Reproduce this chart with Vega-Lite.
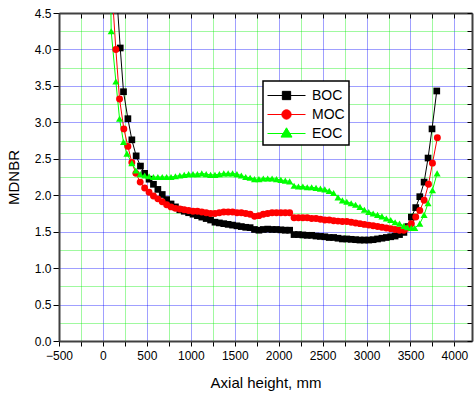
{
  "$schema": "https://vega.github.io/schema/vega-lite/v6.json",
  "width": 413,
  "height": 328,
  "autosize": "none",
  "padding": {"left": 59, "top": 13, "right": 2, "bottom": 59},
  "background": "white",
  "config": {
    "view": {"stroke": null},
    "font": "Liberation Sans",
    "axis": {
      "labelFont": "Liberation Sans",
      "titleFont": "Liberation Sans",
      "labelColor": "#000000",
      "titleColor": "#000000",
      "labelFontSize": 12,
      "titleFontSize": 15,
      "titleFontWeight": "normal",
      "domainColor": "#404040",
      "domainWidth": 2,
      "tickColor": "#000000",
      "tickWidth": 1,
      "labelOverlap": false,
      "labelFlush": false
    },
    "legend": {
      "orient": "none",
      "legendX": 204,
      "legendY": 68,
      "fillColor": "#ffffff",
      "strokeColor": "#000000",
      "padding": 4,
      "labelFont": "Liberation Sans",
      "labelFontSize": 14,
      "labelColor": "#000000",
      "symbolSize": 400,
      "labelOffset": 24,
      "rowPadding": 1
    }
  },
  "data": {
    "values": [
      {"s": "BOC", "x": 150, "y": 4.86}, {"s": "BOC", "x": 197, "y": 4.02}, {"s": "BOC", "x": 234, "y": 3.42}, {"s": "BOC", "x": 284, "y": 3.05},
      {"s": "BOC", "x": 329, "y": 2.76}, {"s": "BOC", "x": 378, "y": 2.54}, {"s": "BOC", "x": 427, "y": 2.40}, {"s": "BOC", "x": 475, "y": 2.30},
      {"s": "BOC", "x": 525, "y": 2.22}, {"s": "BOC", "x": 575, "y": 2.15}, {"s": "BOC", "x": 625, "y": 2.08}, {"s": "BOC", "x": 675, "y": 2.01},
      {"s": "BOC", "x": 725, "y": 1.94}, {"s": "BOC", "x": 775, "y": 1.88}, {"s": "BOC", "x": 825, "y": 1.84}, {"s": "BOC", "x": 875, "y": 1.80},
      {"s": "BOC", "x": 925, "y": 1.78}, {"s": "BOC", "x": 975, "y": 1.76}, {"s": "BOC", "x": 1025, "y": 1.74}, {"s": "BOC", "x": 1075, "y": 1.72},
      {"s": "BOC", "x": 1125, "y": 1.70}, {"s": "BOC", "x": 1175, "y": 1.68}, {"s": "BOC", "x": 1225, "y": 1.66}, {"s": "BOC", "x": 1275, "y": 1.63},
      {"s": "BOC", "x": 1325, "y": 1.62}, {"s": "BOC", "x": 1375, "y": 1.61}, {"s": "BOC", "x": 1425, "y": 1.60}, {"s": "BOC", "x": 1475, "y": 1.59},
      {"s": "BOC", "x": 1525, "y": 1.58}, {"s": "BOC", "x": 1575, "y": 1.57}, {"s": "BOC", "x": 1625, "y": 1.56}, {"s": "BOC", "x": 1675, "y": 1.555},
      {"s": "BOC", "x": 1725, "y": 1.53}, {"s": "BOC", "x": 1775, "y": 1.52}, {"s": "BOC", "x": 1825, "y": 1.53}, {"s": "BOC", "x": 1875, "y": 1.535},
      {"s": "BOC", "x": 1925, "y": 1.53}, {"s": "BOC", "x": 1975, "y": 1.53}, {"s": "BOC", "x": 2025, "y": 1.525}, {"s": "BOC", "x": 2075, "y": 1.52},
      {"s": "BOC", "x": 2125, "y": 1.52}, {"s": "BOC", "x": 2175, "y": 1.46}, {"s": "BOC", "x": 2225, "y": 1.46}, {"s": "BOC", "x": 2275, "y": 1.455},
      {"s": "BOC", "x": 2325, "y": 1.45}, {"s": "BOC", "x": 2375, "y": 1.45}, {"s": "BOC", "x": 2425, "y": 1.44}, {"s": "BOC", "x": 2475, "y": 1.435},
      {"s": "BOC", "x": 2525, "y": 1.43}, {"s": "BOC", "x": 2575, "y": 1.42}, {"s": "BOC", "x": 2625, "y": 1.42}, {"s": "BOC", "x": 2675, "y": 1.41},
      {"s": "BOC", "x": 2725, "y": 1.40}, {"s": "BOC", "x": 2775, "y": 1.40}, {"s": "BOC", "x": 2825, "y": 1.395}, {"s": "BOC", "x": 2875, "y": 1.39},
      {"s": "BOC", "x": 2925, "y": 1.385}, {"s": "BOC", "x": 2975, "y": 1.385}, {"s": "BOC", "x": 3025, "y": 1.385}, {"s": "BOC", "x": 3075, "y": 1.39},
      {"s": "BOC", "x": 3125, "y": 1.40}, {"s": "BOC", "x": 3175, "y": 1.41}, {"s": "BOC", "x": 3225, "y": 1.42}, {"s": "BOC", "x": 3275, "y": 1.43},
      {"s": "BOC", "x": 3325, "y": 1.44}, {"s": "BOC", "x": 3375, "y": 1.46}, {"s": "BOC", "x": 3425, "y": 1.49}, {"s": "BOC", "x": 3470, "y": 1.57},
      {"s": "BOC", "x": 3510, "y": 1.70}, {"s": "BOC", "x": 3560, "y": 1.83}, {"s": "BOC", "x": 3606, "y": 1.98}, {"s": "BOC", "x": 3655, "y": 2.18},
      {"s": "BOC", "x": 3700, "y": 2.51}, {"s": "BOC", "x": 3745, "y": 2.91}, {"s": "BOC", "x": 3799, "y": 3.43},

      {"s": "MOC", "x": 100, "y": 4.87}, {"s": "MOC", "x": 147, "y": 4.00}, {"s": "MOC", "x": 189, "y": 3.32}, {"s": "MOC", "x": 238, "y": 2.91},
      {"s": "MOC", "x": 284, "y": 2.67}, {"s": "MOC", "x": 329, "y": 2.45}, {"s": "MOC", "x": 375, "y": 2.30}, {"s": "MOC", "x": 424, "y": 2.18},
      {"s": "MOC", "x": 475, "y": 2.10}, {"s": "MOC", "x": 525, "y": 2.04}, {"s": "MOC", "x": 575, "y": 1.99}, {"s": "MOC", "x": 625, "y": 1.95},
      {"s": "MOC", "x": 675, "y": 1.91}, {"s": "MOC", "x": 725, "y": 1.87}, {"s": "MOC", "x": 775, "y": 1.84}, {"s": "MOC", "x": 825, "y": 1.82},
      {"s": "MOC", "x": 875, "y": 1.81}, {"s": "MOC", "x": 925, "y": 1.80}, {"s": "MOC", "x": 975, "y": 1.79}, {"s": "MOC", "x": 1025, "y": 1.78},
      {"s": "MOC", "x": 1075, "y": 1.78}, {"s": "MOC", "x": 1125, "y": 1.77}, {"s": "MOC", "x": 1175, "y": 1.76}, {"s": "MOC", "x": 1225, "y": 1.75},
      {"s": "MOC", "x": 1275, "y": 1.75}, {"s": "MOC", "x": 1325, "y": 1.76}, {"s": "MOC", "x": 1375, "y": 1.77}, {"s": "MOC", "x": 1425, "y": 1.77},
      {"s": "MOC", "x": 1475, "y": 1.77}, {"s": "MOC", "x": 1525, "y": 1.76}, {"s": "MOC", "x": 1575, "y": 1.76}, {"s": "MOC", "x": 1625, "y": 1.75},
      {"s": "MOC", "x": 1675, "y": 1.74}, {"s": "MOC", "x": 1725, "y": 1.71}, {"s": "MOC", "x": 1775, "y": 1.72}, {"s": "MOC", "x": 1825, "y": 1.74},
      {"s": "MOC", "x": 1875, "y": 1.75}, {"s": "MOC", "x": 1925, "y": 1.76}, {"s": "MOC", "x": 1975, "y": 1.76}, {"s": "MOC", "x": 2025, "y": 1.76},
      {"s": "MOC", "x": 2075, "y": 1.76}, {"s": "MOC", "x": 2125, "y": 1.76}, {"s": "MOC", "x": 2175, "y": 1.69}, {"s": "MOC", "x": 2225, "y": 1.69},
      {"s": "MOC", "x": 2275, "y": 1.69}, {"s": "MOC", "x": 2325, "y": 1.69}, {"s": "MOC", "x": 2375, "y": 1.68}, {"s": "MOC", "x": 2425, "y": 1.68},
      {"s": "MOC", "x": 2475, "y": 1.67}, {"s": "MOC", "x": 2525, "y": 1.66}, {"s": "MOC", "x": 2575, "y": 1.66}, {"s": "MOC", "x": 2625, "y": 1.65},
      {"s": "MOC", "x": 2675, "y": 1.645}, {"s": "MOC", "x": 2725, "y": 1.64}, {"s": "MOC", "x": 2775, "y": 1.64}, {"s": "MOC", "x": 2825, "y": 1.63},
      {"s": "MOC", "x": 2875, "y": 1.62}, {"s": "MOC", "x": 2925, "y": 1.61}, {"s": "MOC", "x": 2975, "y": 1.60}, {"s": "MOC", "x": 3025, "y": 1.59},
      {"s": "MOC", "x": 3075, "y": 1.58}, {"s": "MOC", "x": 3125, "y": 1.57}, {"s": "MOC", "x": 3175, "y": 1.56}, {"s": "MOC", "x": 3225, "y": 1.55},
      {"s": "MOC", "x": 3275, "y": 1.54}, {"s": "MOC", "x": 3325, "y": 1.53}, {"s": "MOC", "x": 3375, "y": 1.52}, {"s": "MOC", "x": 3425, "y": 1.52},
      {"s": "MOC", "x": 3465, "y": 1.55}, {"s": "MOC", "x": 3510, "y": 1.61}, {"s": "MOC", "x": 3560, "y": 1.70}, {"s": "MOC", "x": 3606, "y": 1.79},
      {"s": "MOC", "x": 3655, "y": 1.93}, {"s": "MOC", "x": 3705, "y": 2.15}, {"s": "MOC", "x": 3750, "y": 2.44}, {"s": "MOC", "x": 3806, "y": 2.79},

      {"s": "EOC", "x": 48, "y": 8.0}, {"s": "EOC", "x": 94, "y": 4.25}, {"s": "EOC", "x": 147, "y": 3.56}, {"s": "EOC", "x": 189, "y": 3.05},
      {"s": "EOC", "x": 234, "y": 2.73}, {"s": "EOC", "x": 273, "y": 2.57}, {"s": "EOC", "x": 329, "y": 2.44}, {"s": "EOC", "x": 375, "y": 2.34},
      {"s": "EOC", "x": 424, "y": 2.29}, {"s": "EOC", "x": 475, "y": 2.27}, {"s": "EOC", "x": 525, "y": 2.26}, {"s": "EOC", "x": 575, "y": 2.25},
      {"s": "EOC", "x": 625, "y": 2.25}, {"s": "EOC", "x": 675, "y": 2.25}, {"s": "EOC", "x": 725, "y": 2.25}, {"s": "EOC", "x": 775, "y": 2.25},
      {"s": "EOC", "x": 825, "y": 2.26}, {"s": "EOC", "x": 875, "y": 2.27}, {"s": "EOC", "x": 925, "y": 2.28}, {"s": "EOC", "x": 975, "y": 2.29},
      {"s": "EOC", "x": 1025, "y": 2.29}, {"s": "EOC", "x": 1075, "y": 2.29}, {"s": "EOC", "x": 1125, "y": 2.30}, {"s": "EOC", "x": 1175, "y": 2.29},
      {"s": "EOC", "x": 1225, "y": 2.28}, {"s": "EOC", "x": 1275, "y": 2.28}, {"s": "EOC", "x": 1325, "y": 2.29}, {"s": "EOC", "x": 1375, "y": 2.30},
      {"s": "EOC", "x": 1425, "y": 2.30}, {"s": "EOC", "x": 1475, "y": 2.30}, {"s": "EOC", "x": 1525, "y": 2.29}, {"s": "EOC", "x": 1575, "y": 2.27},
      {"s": "EOC", "x": 1625, "y": 2.25}, {"s": "EOC", "x": 1675, "y": 2.24}, {"s": "EOC", "x": 1725, "y": 2.22}, {"s": "EOC", "x": 1775, "y": 2.22},
      {"s": "EOC", "x": 1825, "y": 2.23}, {"s": "EOC", "x": 1875, "y": 2.23}, {"s": "EOC", "x": 1925, "y": 2.23}, {"s": "EOC", "x": 1975, "y": 2.22},
      {"s": "EOC", "x": 2025, "y": 2.21}, {"s": "EOC", "x": 2075, "y": 2.20}, {"s": "EOC", "x": 2125, "y": 2.19}, {"s": "EOC", "x": 2175, "y": 2.13},
      {"s": "EOC", "x": 2225, "y": 2.12}, {"s": "EOC", "x": 2275, "y": 2.12}, {"s": "EOC", "x": 2325, "y": 2.11}, {"s": "EOC", "x": 2375, "y": 2.11},
      {"s": "EOC", "x": 2425, "y": 2.10}, {"s": "EOC", "x": 2475, "y": 2.09}, {"s": "EOC", "x": 2525, "y": 2.08}, {"s": "EOC", "x": 2575, "y": 2.06},
      {"s": "EOC", "x": 2625, "y": 2.03}, {"s": "EOC", "x": 2675, "y": 1.97}, {"s": "EOC", "x": 2725, "y": 1.93}, {"s": "EOC", "x": 2775, "y": 1.91},
      {"s": "EOC", "x": 2825, "y": 1.89}, {"s": "EOC", "x": 2875, "y": 1.87}, {"s": "EOC", "x": 2925, "y": 1.84}, {"s": "EOC", "x": 2975, "y": 1.80},
      {"s": "EOC", "x": 3025, "y": 1.77}, {"s": "EOC", "x": 3075, "y": 1.75}, {"s": "EOC", "x": 3125, "y": 1.73}, {"s": "EOC", "x": 3175, "y": 1.71},
      {"s": "EOC", "x": 3225, "y": 1.68}, {"s": "EOC", "x": 3275, "y": 1.66}, {"s": "EOC", "x": 3325, "y": 1.63}, {"s": "EOC", "x": 3375, "y": 1.61},
      {"s": "EOC", "x": 3425, "y": 1.58}, {"s": "EOC", "x": 3465, "y": 1.56}, {"s": "EOC", "x": 3510, "y": 1.55}, {"s": "EOC", "x": 3549, "y": 1.55},
      {"s": "EOC", "x": 3606, "y": 1.61}, {"s": "EOC", "x": 3655, "y": 1.73}, {"s": "EOC", "x": 3700, "y": 1.89}, {"s": "EOC", "x": 3750, "y": 2.07},
      {"s": "EOC", "x": 3803, "y": 2.30}
    ]
  },
  "resolve": {"axis": {"x": "independent", "y": "independent"}},
  "layer": [
    {
      "mark": {"type": "line", "strokeWidth": 1, "clip": true},
      "encoding": {
        "x": {
          "field": "x", "type": "quantitative",
          "scale": {"domain": [-500, 4200], "nice": false, "zero": false},
          "axis": {
            "orient": "bottom",
            "values": [-500, -250, 0, 250, 500, 750, 1000, 1250, 1500, 1750, 2000, 2250, 2500, 2750, 3000, 3250, 3500, 3750, 4000],
            "labelExpr": "datum.value % 500 === 0 ? datum.label : ''",
            "format": "d",
            "title": "Axial height, mm",
            "titlePadding": 14,
            "tickSize": 5,
            "labelPadding": 4,
            "grid": true,
            "gridColor": {"condition": {"test": "datum.value % 500 === 0", "value": "#0000ff"}, "value": "#00ee00"},
            "gridDash": [1, 1],
            "gridWidth": 1,
            "gridOpacity": 0.75
          }
        },
        "y": {
          "field": "y", "type": "quantitative",
          "scale": {"domain": [0, 4.5], "nice": false, "zero": false},
          "axis": {
            "orient": "left",
            "values": [0, 0.25, 0.5, 0.75, 1, 1.25, 1.5, 1.75, 2, 2.25, 2.5, 2.75, 3, 3.25, 3.5, 3.75, 4, 4.25, 4.5],
            "labelExpr": "datum.value % 0.5 === 0 ? format(datum.value, '.1f') : ''",
            "title": "MDNBR",
            "titlePadding": 13,
            "tickSize": {"condition": {"test": "datum.value % 0.5 === 0", "value": 6}, "value": 0},
            "labelPadding": 2,
            "grid": true,
            "gridColor": {"condition": {"test": "datum.value % 0.5 === 0", "value": "#0000ff"}, "value": "#00ee00"},
            "gridDash": [1, 1],
            "gridWidth": 1,
            "gridOpacity": 0.75
          }
        },
        "color": {
          "field": "s", "type": "nominal",
          "scale": {"domain": ["BOC", "MOC", "EOC"], "range": ["#000000", "#ff0000", "#00ff00"]},
          "legend": {
            "title": null,
            "encode": {
              "legend": {"update": {"strokeWidth": {"value": 1.5}}},
              "symbols": {
                "update": {
                  "shape": {"signal": "datum.value === 'BOC' ? 'M-1,0H2.8M0.485,-0.415H1.315V0.415H0.485Z' : datum.value === 'MOC' ? 'M-1,0H2.8M0.435,0A0.465,0.465,0,1,0,1.365,0A0.465,0.465,0,1,0,0.435,0Z' : 'M-1,0H2.8M0.9,-0.57L1.45,0.36H0.35Z'"},
                  "fill": {"signal": "datum.value === 'BOC' ? '#000000' : datum.value === 'MOC' ? '#ff0000' : '#00ff00'"},
                  "strokeWidth": {"value": 1},
                  "size": {"value": 400},
                  "opacity": {"value": 1}
                }
              }
            }
          }
        }
      }
    },
    {
      "transform": [{"filter": "datum.s === 'BOC'"}],
      "mark": {"type": "point", "shape": "square", "filled": true, "color": "#000000", "opacity": 1, "size": 45, "clip": true},
      "encoding": {
        "x": {
          "field": "x", "type": "quantitative",
          "scale": {"domain": [-500, 4200], "nice": false, "zero": false},
          "axis": {
            "orient": "top",
            "values": [-500, -250, 0, 250, 500, 750, 1000, 1250, 1500, 1750, 2000, 2250, 2500, 2750, 3000, 3250, 3500, 3750, 4000],
            "labels": false,
            "title": null,
            "tickSize": -5,
            "grid": false
          }
        },
        "y": {
          "field": "y", "type": "quantitative",
          "scale": {"domain": [0, 4.5], "nice": false, "zero": false},
          "axis": {
            "orient": "right",
            "values": [0, 0.25, 0.5, 0.75, 1, 1.25, 1.5, 1.75, 2, 2.25, 2.5, 2.75, 3, 3.25, 3.5, 3.75, 4, 4.25, 4.5],
            "labels": false,
            "title": null,
            "tickSize": -5,
            "grid": false
          }
        }
      }
    },
    {
      "transform": [{"filter": "datum.s === 'MOC'"}],
      "mark": {"type": "point", "shape": "circle", "filled": true, "color": "#ff0000", "opacity": 1, "size": 48, "clip": true},
      "encoding": {
        "x": {"field": "x", "type": "quantitative", "scale": {"domain": [-500, 4200], "nice": false, "zero": false}, "axis": null},
        "y": {"field": "y", "type": "quantitative", "scale": {"domain": [0, 4.5], "nice": false, "zero": false}, "axis": null}
      }
    },
    {
      "transform": [{"filter": "datum.s === 'EOC'"}],
      "mark": {"type": "point", "shape": "triangle-up", "filled": true, "color": "#00ff00", "opacity": 1, "size": 50, "clip": true},
      "encoding": {
        "x": {"field": "x", "type": "quantitative", "scale": {"domain": [-500, 4200], "nice": false, "zero": false}, "axis": null},
        "y": {"field": "y", "type": "quantitative", "scale": {"domain": [0, 4.5], "nice": false, "zero": false}, "axis": null}
      }
    }
  ]
}
